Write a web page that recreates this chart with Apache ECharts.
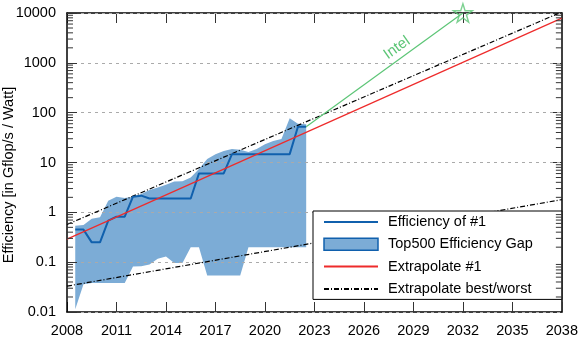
<!DOCTYPE html>
<html>
<head>
<meta charset="utf-8">
<script src="https://cdn.jsdelivr.net/npm/echarts@6/dist/echarts.min.js"></script>
<style>
html, body { margin: 0; padding: 0; background: #fff; }
#main { width: 581px; height: 339px; }
</style>
</head>
<body>
<div id="main"></div>
<script>
// Top500 lists (half-year steps)
const listYears = [2008.5, 2009, 2009.5, 2010, 2010.5, 2011, 2011.5, 2012, 2012.5, 2013,
    2013.5, 2014, 2014.5, 2015, 2015.5, 2016, 2016.5, 2017, 2017.5, 2018,
    2018.5, 2019, 2019.5, 2020, 2020.5, 2021, 2021.5, 2022, 2022.5];
// efficiency of the #1 system
const effNo1 = [0.45, 0.45, 0.25, 0.25, 0.68, 0.82, 0.82, 2.06, 2.16, 1.9,
    1.9, 1.9, 1.9, 1.9, 1.9, 6.05, 6.05, 6.05, 6.05, 14.7,
    14.7, 14.7, 14.7, 14.7, 14.7, 14.7, 14.7, 52.2, 52.2];
// best / worst efficiency in the list
const gapUpper = [0.54, 0.56, 0.74, 0.8, 1.71, 2.06, 1.94, 2.06, 2.33, 2.8,
    3.16, 3.57, 4.17, 4.2, 5.0, 7.4, 11.7, 14.7, 17.1, 18.6,
    18, 16.3, 18.6, 23.3, 27.1, 29.5, 77, 60, 58.5];
const gapLower = [0.0114, 0.036, 0.038, 0.038, 0.038, 0.038, 0.038, 0.082, 0.083, 0.09,
    0.117, 0.13, 0.096, 0.096, 0.2, 0.2, 0.054, 0.054, 0.054, 0.054,
    0.054, 0.2, 0.2, 0.2, 0.2, 0.2, 0.2, 0.2, 0.2];

// extrapolations, values at 2008 and 2038
const extraYears = [2008, 2038];
const extraNo1 = [0.29, 7900];
const extraBest = [0.57, 10500];
const extraWorst = [0.033, 1.8];

// Intel projection
const intelYears = [2022.5, 2032];
const intelValues = [52.2, 10000];
const intelLabelAt = [2028.0, 2000];

// axis ticks
const xTickLabels = [2008, 2011, 2014, 2017, 2020, 2023, 2026, 2029, 2032, 2035, 2038];
const yTickLabels = [0.01, 0.1, 1, 10, 100, 1000, 10000];

const font = 'Liberation Sans, Arial, sans-serif';
const fs = 14.5;
const blue = '#1060ad';
const bandColor = '#7cacd6';
const red = '#ee2b2b';
const green = '#5cc576';
const dashDot = [5, 2, 1, 2];

const xMin = xTickLabels[0], xMax = xTickLabels[xTickLabels.length - 1];
const yMin = yTickLabels[0], yMax = yTickLabels[yTickLabels.length - 1];

const yMinor = [];
for (let i = 0; i < yTickLabels.length - 1; i++) {
    for (let m = 2; m <= 9; m++) yMinor.push(yTickLabels[i] * m);
}

const pairs = (xs, ys) => xs.map((x, i) => [x, ys[i]]);
const starPath = 'path://M50,2 L61,37 L98,37 L68,59 L79,95 L50,73 L21,95 L32,59 L2,37 L39,37 Z';

const chart = echarts.init(document.getElementById('main'), null, { renderer: 'canvas' });

const tickCommon = { show: true, inside: true, length: 10, lineStyle: { color: '#333', width: 1 } };
const lineCommon = { show: true, onZero: false, lineStyle: { color: '#000', width: 1.5 } };
const noSymbol = { opacity: 0, color: 'rgba(0,0,0,0)', borderWidth: 0 };

const option = {
    animation: false,
    backgroundColor: '#fff',
    textStyle: { fontFamily: font },
    grid: { left: 67, right: 16, top: 13, bottom: 27 },
    xAxis: [{
        type: 'value', position: 'bottom', min: xMin, max: xMax, interval: 3,
        axisLine: lineCommon, axisTick: tickCommon, splitLine: { show: false },
        axisLabel: { color: '#000', fontSize: fs, fontFamily: font, margin: 11, formatter: v => String(v) }
    }, {
        type: 'value', position: 'top', min: xMin, max: xMax, interval: 3,
        axisLine: lineCommon, axisTick: tickCommon, splitLine: { show: false },
        axisLabel: { show: false }
    }],
    yAxis: [{
        type: 'log', logBase: 10, position: 'left', min: yMin, max: yMax, z: 1.5,
        axisLine: lineCommon, axisTick: tickCommon,
        axisLabel: {
            color: '#000', fontSize: fs, fontFamily: font, margin: 11,
            formatter: v => String(+(+v).toPrecision(2))
        },
        splitLine: { show: true, lineStyle: { color: '#aaa', width: 1, type: [3, 4] } }
    }, {
        type: 'log', logBase: 10, position: 'right', min: yMin, max: yMax,
        axisLine: lineCommon, axisTick: tickCommon,
        axisLabel: { show: false }, splitLine: { show: false }
    }],
    legend: {
        orient: 'vertical', left: 313, top: 211,
        padding: [3.5, 29, 3, 10], itemGap: 7.3, itemWidth: 54, itemHeight: 12,
        backgroundColor: '#fff', borderColor: '#000', borderWidth: 1,
        textStyle: { color: '#000', fontSize: fs, fontFamily: font, padding: [0, 0, 0, 5] },
        data: [
            { name: 'Efficiency of #1', itemStyle: noSymbol },
            { name: 'Top500 Efficiency Gap', icon: 'rect',
              itemStyle: { color: bandColor, borderColor: blue, borderWidth: 1.5 } },
            { name: 'Extrapolate #1', itemStyle: noSymbol },
            { name: 'Extrapolate best/worst', itemStyle: noSymbol }
        ]
    },
    graphic: [{
        type: 'text', x: 9, y: 175, rotation: Math.PI / 2,
        style: {
            text: 'Efficiency [in Gflop/s / Watt]', fill: '#000',
            font: fs + 'px ' + font, align: 'center', verticalAlign: 'middle'
        }
    }],
    series: [{
        name: 'Top500 Efficiency Gap', type: 'custom', z: 1,
        itemStyle: { color: bandColor },
        data: [[listYears[0], gapUpper[0]]],
        renderItem: (params, api) => {
            const pts = [];
            listYears.forEach((yr, i) => pts.push(api.coord([yr, gapUpper[i]])));
            for (let i = listYears.length - 1; i >= 0; i--) pts.push(api.coord([listYears[i], gapLower[i]]));
            return { type: 'polygon', shape: { points: pts }, style: { fill: bandColor } };
        }
    }, {
        name: 'Extrapolate best/worst', type: 'line', symbol: 'none', z: 3,
        data: pairs(extraYears, extraBest),
        lineStyle: { color: '#000', width: 1.2, type: dashDot }
    }, {
        name: 'Extrapolate best/worst', type: 'line', symbol: 'none', z: 3,
        data: pairs(extraYears, extraWorst),
        lineStyle: { color: '#000', width: 1.2, type: dashDot }
    }, {
        name: 'Efficiency of #1', type: 'line', symbol: 'none', z: 4,
        data: pairs(listYears, effNo1),
        lineStyle: { color: blue, width: 2 }
    }, {
        name: 'Extrapolate #1', type: 'line', symbol: 'none', z: 5,
        data: pairs(extraYears, extraNo1),
        lineStyle: { color: red, width: 1.2 }
    }, {
        name: 'Intel', type: 'line', symbol: 'none', z: 5,
        data: pairs(intelYears, intelValues),
        lineStyle: { color: green, width: 1.2 },
        markPoint: {
            symbolSize: 0,
            data: [{
                coord: intelLabelAt,
                label: { show: true, position: 'inside', formatter: 'Intel', rotate: 35.6,
                         color: green, fontSize: 15, fontFamily: font }
            }]
        }
    }, {
        name: 'IntelTarget', type: 'scatter', z: 6, clip: false,
        symbol: starPath, symbolSize: 19, symbolKeepAspect: true,
        data: [[intelYears[1], intelValues[1]]],
        itemStyle: { color: 'rgba(0,0,0,0)', borderColor: green, borderWidth: 1.4 }
    }, {
        name: 'minorTicks', type: 'custom', z: 6, silent: true,
        data: [[xMin, yMin]],
        renderItem: (params, api) => {
            const children = [];
            yMinor.forEach(v => {
                const l = api.coord([xMin, v]);
                const r = api.coord([xMax, v]);
                children.push({ type: 'line', shape: { x1: l[0], y1: l[1], x2: l[0] + 6, y2: l[1] },
                                style: { stroke: '#333', lineWidth: 1 } });
                children.push({ type: 'line', shape: { x1: r[0], y1: r[1], x2: r[0] - 6, y2: r[1] },
                                style: { stroke: '#333', lineWidth: 1 } });
            });
            return { type: 'group', children: children };
        }
    }]
};

chart.setOption(option);
</script>
</body>
</html>
